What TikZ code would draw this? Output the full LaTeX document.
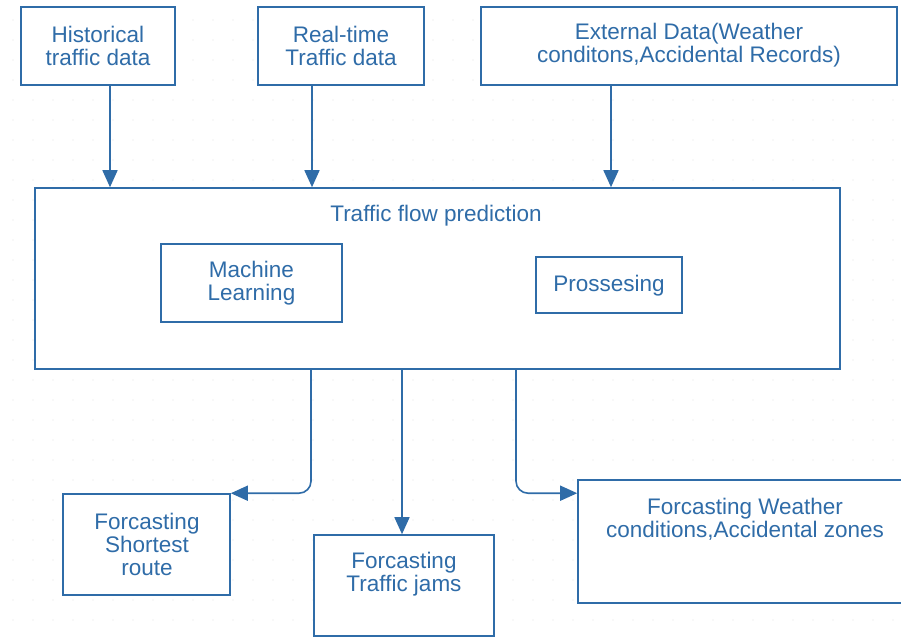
\documentclass[tikz,border=0pt]{standalone}
\usepackage{fontspec}
\setmainfont{Liberation Sans}
\usetikzlibrary{arrows.meta}
\definecolor{flowblue}{RGB}{47,108,168}
\definecolor{gridgray}{RGB}{225,225,228}
\tikzset{
  box/.style={draw=flowblue, line width=1.6pt, rectangle, inner sep=0pt, fill=white},
  txt/.style={text=flowblue, align=center, inner sep=0pt,
              font=\fontsize{22.5}{23}\selectfont},
  conn/.style={draw=flowblue, line width=1.6pt,
               -{Triangle[length=17pt,width=15pt]}},
}
\begin{document}
\begin{tikzpicture}[x=1pt,y=-1pt]
  \clip (0,0) rectangle (901,637);
  \fill[white] (0,0) rectangle (901,637);
  % faint dotted canvas grid
  \foreach \gx in {13,33,...,893}{
    \foreach \gy in {20,40,...,630}{
      \fill[gridgray] (\gx,\gy) circle (0.7pt);
    }
  }

  % input sources
  \node[box, minimum width=154pt, minimum height=78pt] (hist) at (98,46) {};
  \node[txt] at (98,45.5) {Historical\\traffic data};
  \node[box, minimum width=166pt, minimum height=78pt] (real) at (341,46) {};
  \node[txt] at (341,45.5) {Real-time\\Traffic data};
  \node[box, minimum width=416pt, minimum height=78pt] (ext) at (689,46) {};
  \node[txt] at (689,45.5) {External Data(Weather\\conditons,Accidental Records)};

  % prediction block
  \node[box, minimum width=805pt, minimum height=181pt] (flow) at (437.5,278.5) {};
  \node[txt] at (436,215.5) {Traffic flow prediction};
  \node[box, minimum width=181pt, minimum height=78pt] (ml) at (251.5,283) {};
  \node[txt] at (ml) {Machine\\Learning};
  \node[box, minimum width=146pt, minimum height=56pt] (proc) at (609,285) {};
  \node[txt] at (609,285.5) {Prossesing};

  % outputs
  \node[box, minimum width=167pt, minimum height=101pt] (route) at (146.5,544.5) {};
  \node[txt] at (147,544) {Forcasting\\Shortest\\route};
  \node[box, minimum width=180pt, minimum height=101pt] (jams) at (404,585.5) {};
  \node[txt] at (404,574.5) {Forcasting\\Traffic jams};
  \node[box, minimum width=334pt, minimum height=123pt] (wx) at (745,541.5) {};
  \node[txt] at (745,519) {Forcasting Weather\\conditions,Accidental zones};

  % inputs into the prediction block
  \draw[conn] ([xshift=12pt]hist.south) -- ([xshift=12pt]hist.south |- flow.north);
  \draw[conn] ([xshift=-29pt]real.south) -- ([xshift=-29pt]real.south |- flow.north);
  \draw[conn] ([xshift=-78pt]ext.south) -- ([xshift=-78pt]ext.south |- flow.north);

  % prediction block to outputs
  \draw[conn, rounded corners=12pt] ([xshift=-126.5pt]flow.south) |- (route.north east);
  \draw[conn] ([xshift=-35.5pt]flow.south) -- ([xshift=-35.5pt]flow.south |- jams.north);
  \draw[conn, rounded corners=12pt] ([xshift=78.5pt]flow.south) |- ([yshift=-14pt]wx.north west);
\end{tikzpicture}
\end{document}
